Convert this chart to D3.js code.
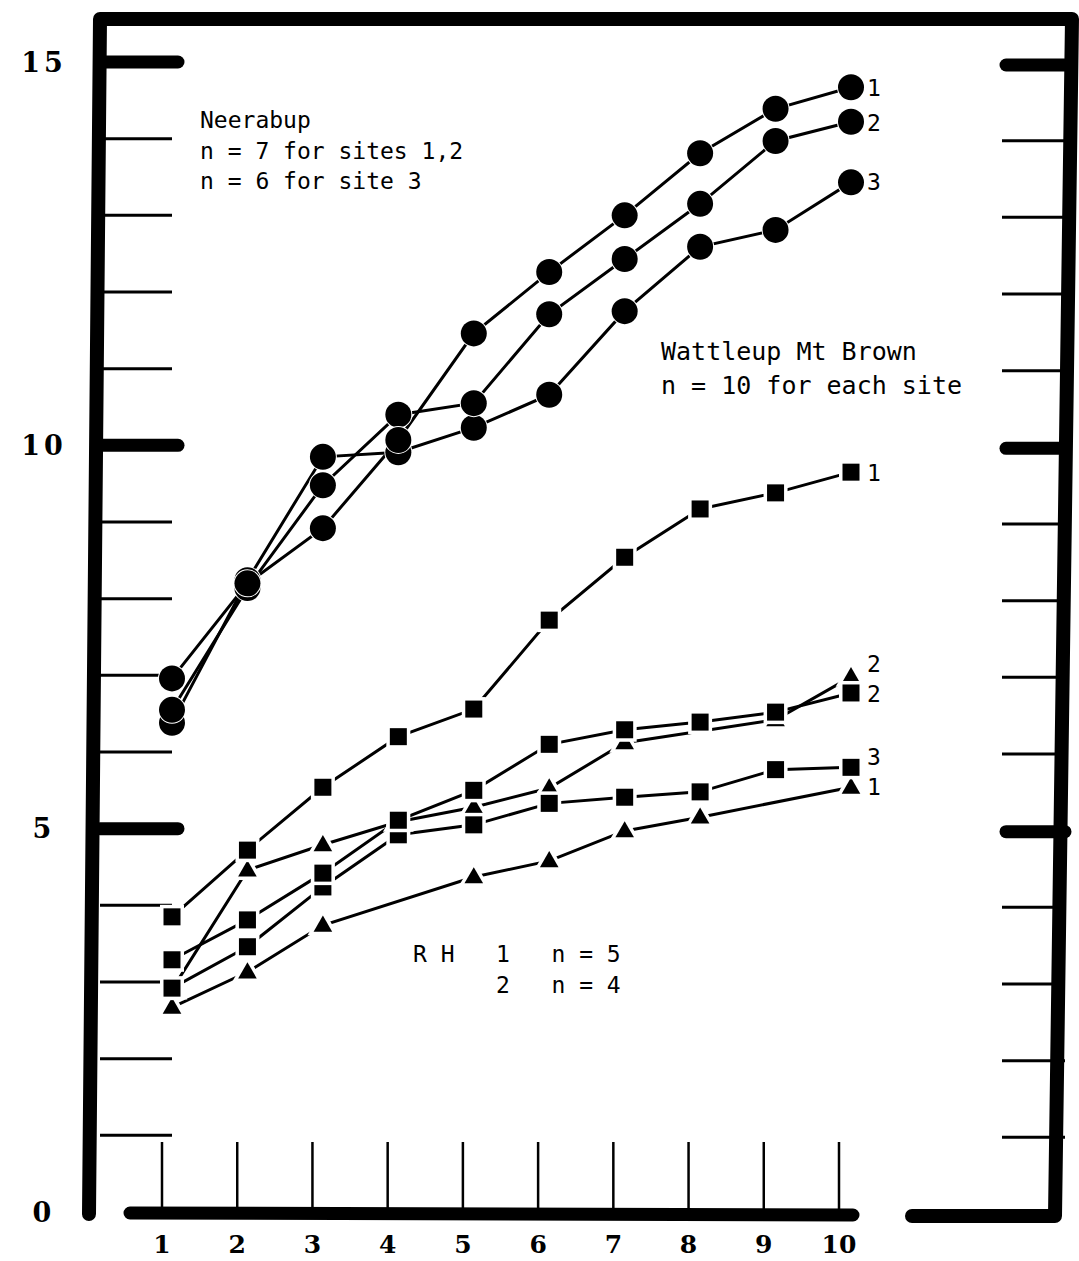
<!DOCTYPE html>
<html><head><meta charset="utf-8">
<script src="https://cdn.jsdelivr.net/npm/d3@7"></script>
<style>body{margin:0;background:#fff} svg{display:block} text{white-space:pre}</style>
</head><body><svg id="c" width="1079" height="1261"></svg>
<script>
// ---- data ----
const xCategories = [1, 2, 3, 4, 5, 6, 7, 8, 9, 10];
const yTickValues = [0, 5, 10, 15];
const yMinorTicks = [1, 2, 3, 4, 6, 7, 8, 9, 11, 12, 13, 14];
const neerabup1 = [6.96, 8.20, 8.92, 10.07, 11.46, 12.26, 13.00, 13.81, 14.39, 14.67];
const neerabup2 = [6.55, 8.14, 9.48, 10.40, 10.55, 11.71, 12.43, 13.15, 13.97, 14.22];
const neerabup3 = [6.38, 8.24, 9.85, 9.91, 10.23, 10.66, 11.75, 12.59, 12.81, 13.43];
const wattleup1 = [3.85, 4.72, 5.54, 6.20, 6.56, 7.72, 8.54, 9.17, 9.38, 9.65];
const wattleup2 = [3.29, 3.81, 4.42, 5.11, 5.50, 6.10, 6.29, 6.39, 6.52, 6.77];
const wattleup3 = [2.92, 3.46, 4.24, 4.92, 5.05, 5.33, 5.41, 5.48, 5.77, 5.80];
const rh1 = [2.67, 3.13, 3.74, null, 4.37, 4.58, 4.97, 5.15, null, 5.54];
const rh2 = [2.90, 4.46, 4.79, 5.09, 5.28, 5.53, 6.12, null, 6.42, 6.98];

const series = [
  {values: rh1, shape: 'triangle', label: '1', ldy: 10},
  {values: rh2, shape: 'triangle', label: '2', ldy: -3},
  {values: wattleup3, shape: 'square', label: '3', ldy: 0},
  {values: wattleup2, shape: 'square', label: '2', ldy: 11},
  {values: wattleup1, shape: 'square', label: '1', ldy: 11},
  {values: neerabup3, shape: 'circle', label: '3', ldy: 8},
  {values: neerabup2, shape: 'circle', label: '2', ldy: 9},
  {values: neerabup1, shape: 'circle', label: '1', ldy: 9}
];

// ---- scales ----
const x = d3.scaleLinear().domain([1, 10]).range([172, 851]);      // plotted points
const xAxisScale = d3.scaleLinear().domain([1, 10]).range([162, 839]); // drawn tick marks
const y = d3.scaleLinear().domain([0, 15]).range([1212, 62]);

const svg = d3.select('#c');
const ink = '#000';

// ---- frame ----
svg.append('path')
  .attr('d', 'M89,1214 L100,19 L1072,19 L1055,1216 L912,1216')
  .attr('fill', 'none').attr('stroke', ink).attr('stroke-width', 14)
  .attr('stroke-linejoin', 'round').attr('stroke-linecap', 'round');
svg.append('line')
  .attr('x1', 130).attr('x2', 853).attr('y1', y(0) + 1).attr('y2', y(0) + 3)
  .attr('stroke', ink).attr('stroke-width', 13).attr('stroke-linecap', 'round');

// left ticks
svg.selectAll('.lminor').data(yMinorTicks).join('line')
  .attr('x1', 100).attr('x2', 172).attr('y1', d => y(d)).attr('y2', d => y(d))
  .attr('stroke', ink).attr('stroke-width', 3);
svg.selectAll('.lmajor').data(yTickValues.filter(d => d > 0)).join('line')
  .attr('x1', 100).attr('x2', 178).attr('y1', d => y(d)).attr('y2', d => y(d))
  .attr('stroke', ink).attr('stroke-width', 13).attr('stroke-linecap', 'round');
// right ticks
svg.selectAll('.rminor').data(yMinorTicks).join('line')
  .attr('x1', 1002).attr('x2', 1065).attr('y1', d => y(d) + 2).attr('y2', d => y(d) + 2)
  .attr('stroke', ink).attr('stroke-width', 3);
svg.selectAll('.rmajor').data(yTickValues.filter(d => d > 0)).join('line')
  .attr('x1', 1006).attr('x2', 1065).attr('y1', d => y(d) + 3).attr('y2', d => y(d) + 3)
  .attr('stroke', ink).attr('stroke-width', 13).attr('stroke-linecap', 'round');

// y labels
svg.selectAll('.ylab').data(yTickValues).join('text')
  .attr('x', 44).attr('y', d => y(d)).attr('dy', '0.36em')
  .attr('text-anchor', 'middle')
  .attr('font-family', 'DejaVu Serif').attr('font-weight', 'bold').attr('font-size', 27)
  .attr('letter-spacing', 4)
  .text(d => d);

// x ticks and labels
svg.selectAll('.xt').data(xCategories).join('line')
  .attr('x1', d => xAxisScale(d)).attr('x2', d => xAxisScale(d))
  .attr('y1', 1142).attr('y2', y(0))
  .attr('stroke', ink).attr('stroke-width', 2.5);
svg.selectAll('.xl').data(xCategories).join('text')
  .attr('x', d => xAxisScale(d)).attr('y', 1253)
  .attr('text-anchor', 'middle')
  .attr('font-family', 'DejaVu Serif').attr('font-weight', 'bold').attr('font-size', 25)
  .text(d => d);

// ---- lines ----
const line = d3.line().x(d => x(d.x)).y(d => y(d.v));
series.forEach(s => {
  s.pts = xCategories.map((c, i) => ({x: c, v: s.values[i]})).filter(p => p.v !== null);
  svg.append('path').attr('d', line(s.pts))
    .attr('fill', 'none').attr('stroke', ink).attr('stroke-width', 3);
});

// ---- markers ----
const tri = d3.symbol().type(d3.symbolTriangle).size(150);
series.forEach(s => {
  const g = svg.append('g');
  if (s.shape === 'circle') {
    g.selectAll('circle').data(s.pts).join('circle')
      .attr('cx', d => x(d.x)).attr('cy', d => y(d.v)).attr('r', 13)
      .attr('fill', ink).attr('stroke', '#fff').attr('stroke-width', 2).attr('paint-order', 'stroke');
  } else if (s.shape === 'square') {
    g.selectAll('rect').data(s.pts).join('rect')
      .attr('x', d => x(d.x) - 8.5).attr('y', d => y(d.v) - 8.5)
      .attr('width', 17).attr('height', 17)
      .attr('fill', ink).attr('stroke', '#fff').attr('stroke-width', 7).attr('paint-order', 'stroke');
  } else {
    g.selectAll('path').data(s.pts).join('path')
      .attr('d', tri)
      .attr('transform', d => `translate(${x(d.x)},${y(d.v) + 1})`)
      .attr('fill', ink).attr('stroke', '#fff').attr('stroke-width', 7).attr('paint-order', 'stroke');
  }
  const last = s.pts[s.pts.length - 1];
  svg.append('text')
    .attr('x', x(last.x) + 16).attr('y', y(last.v) + s.ldy - (s.shape === 'circle' ? 0 : 2))
    .attr('font-family', 'DejaVu Sans Mono').attr('font-size', 23)
    .text(s.label);
});

// ---- annotations ----
const mono = 'DejaVu Sans Mono';
const notes = [
  {t: 'Neerabup', x: 200, y: 128, fs: 23},
  {t: 'n = 7 for sites 1,2', x: 200, y: 159, fs: 23},
  {t: 'n = 6 for site 3', x: 200, y: 189, fs: 23},
  {t: 'Wattleup Mt Brown', x: 661, y: 360, fs: 25},
  {t: 'n = 10 for each site', x: 661, y: 394, fs: 25},
  {t: 'R H   1   n = 5', x: 413, y: 962, fs: 23},
  {t: '      2   n = 4', x: 413, y: 993, fs: 23}
];
svg.selectAll('.note').data(notes).join('text')
  .attr('x', d => d.x).attr('y', d => d.y)
  .attr('font-family', mono).attr('font-size', d => d.fs)
  .text(d => d.t);
</script></body></html>
